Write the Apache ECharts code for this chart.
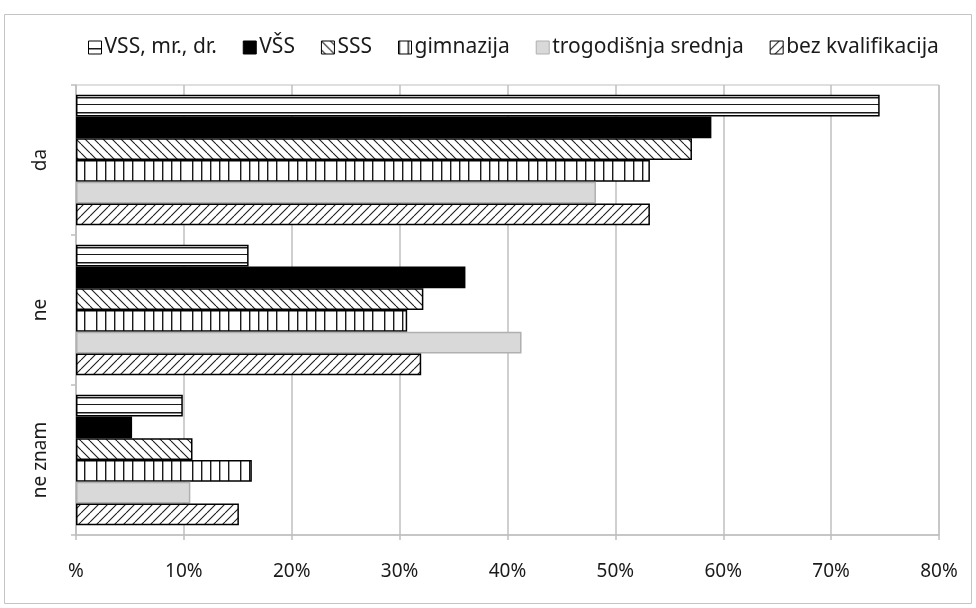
<!DOCTYPE html>
<html>
<head>
<meta charset="utf-8">
<script src="https://cdn.jsdelivr.net/npm/echarts@6/dist/echarts.min.js"></script>
<style>
  html, body { margin: 0; padding: 0; background: #fff; }
  #chart { width: 976px; height: 608px; }
</style>
</head>
<body>
<div id="chart"></div>
<script type="text/javascript">
// podaci
var categories = ['da', 'ne', 'ne znam'];
var seriesNames = ['VSS, mr., dr.', 'VŠS', 'SSS', 'gimnazija', 'trogodišnja srednja', 'bez kvalifikacija'];
var vss = [74.5, 16.0, 9.9];
var vss2 = [58.9, 36.1, 5.2];
var sss = [57.1, 32.2, 10.8];
var gimnazija = [53.2, 30.7, 16.3];
var trogodisnja = [48.2, 41.3, 10.6];
var bezKval = [53.2, 32.0, 15.1];

var fontFamily = "'Noto Sans', sans-serif";

// uzorci za ispunu (pattern)
function makePattern(w, h, draw) {
	var c = document.createElement('canvas');
	c.width = w;
	c.height = h;
	var ctx = c.getContext('2d');
	ctx.fillStyle = '#fff';
	ctx.fillRect(0, 0, w, h);
	ctx.strokeStyle = '#1a1a1a';
	ctx.fillStyle = '#1a1a1a';
	draw(ctx, w, h);
	return { image: c, repeat: 'repeat' };
}

var horizPattern = makePattern(8, 15, function(ctx, w, h) {
	ctx.fillRect(0, 7, w, 1.5);
	ctx.fillRect(0, 14, w, 1);
});

var vertPattern = makePattern(48, 4, function(ctx, w, h) {
	[0, 9, 18, 27, 36].forEach(function(x) {
		ctx.fillRect(x, 0, 1.4, h);
	});
});

function diagPattern(back) {
	return makePattern(9, 9, function(ctx, w, h) {
		ctx.lineWidth = 1.1;
		for (var k = -1; k <= 1; k++) {
			ctx.beginPath();
			if (back) {
				ctx.moveTo(k * w, 0);
				ctx.lineTo(k * w + w, h);
			} else {
				ctx.moveTo(k * w, h);
				ctx.lineTo(k * w + w, 0);
			}
			ctx.stroke();
		}
	});
}

var chart = echarts.init(document.getElementById('chart'), null, { renderer: 'canvas' });

function barSeries(name, data, color, border) {
	return {
		name: name,
		type: 'bar',
		data: data,
		barGap: '0%',
		barCategoryGap: '13%',
		itemStyle: {
			color: color,
			borderColor: border || '#000',
			borderWidth: 1.5
		}
	};
}

chart.setOption({
	animation: false,
	graphic: [{
		type: 'rect',
		shape: { x: 4.5, y: 14.5, width: 967, height: 589 },
		style: { fill: null, stroke: '#c4c4c4', lineWidth: 1 }
	}],
	legend: {
		top: 32,
		left: 83,
		icon: 'rect',
		itemWidth: 13,
		itemHeight: 13,
		itemGap: 26,
		data: seriesNames,
		itemStyle: { borderWidth: 1 },
		textStyle: { fontFamily: fontFamily, fontSize: 21, color: '#1a1a1a', padding: [0, 0, 0, -2] }
	},
	grid: {
		left: 76,
		right: 37,
		top: 85,
		bottom: 73,
		show: true,
		borderColor: '#bfbfbf',
		borderWidth: 1
	},
	xAxis: {
		type: 'value',
		min: 0,
		max: 80,
		interval: 10,
		axisLine: { show: true, lineStyle: { color: '#bfbfbf', width: 1.5 } },
		axisTick: { show: true, length: 5, lineStyle: { color: '#bfbfbf', width: 1.5 } },
		splitLine: { show: true, lineStyle: { color: '#bfbfbf', width: 1.5 } },
		axisLabel: {
			margin: 27,
			fontFamily: fontFamily,
			fontSize: 19,
			color: '#1a1a1a',
			formatter: function(v) { return v === 0 ? '%' : v + '%'; }
		}
	},
	yAxis: {
		type: 'category',
		data: categories,
		inverse: true,
		axisLine: { show: true, lineStyle: { color: '#bfbfbf', width: 1.5 } },
		axisTick: { show: true, length: 5, lineStyle: { color: '#bfbfbf', width: 1.5 } },
		axisLabel: {
			rotate: 90,
			margin: 26,
			fontFamily: fontFamily,
			fontSize: 19,
			color: '#1a1a1a'
		}
	},
	series: [
		barSeries(seriesNames[0], vss, horizPattern),
		barSeries(seriesNames[1], vss2, '#000'),
		barSeries(seriesNames[2], sss, diagPattern(true)),
		barSeries(seriesNames[3], gimnazija, vertPattern),
		barSeries(seriesNames[4], trogodisnja, '#d9d9d9', '#b0b0b0'),
		barSeries(seriesNames[5], bezKval, diagPattern(false))
	]
});
</script>
</body>
</html>
